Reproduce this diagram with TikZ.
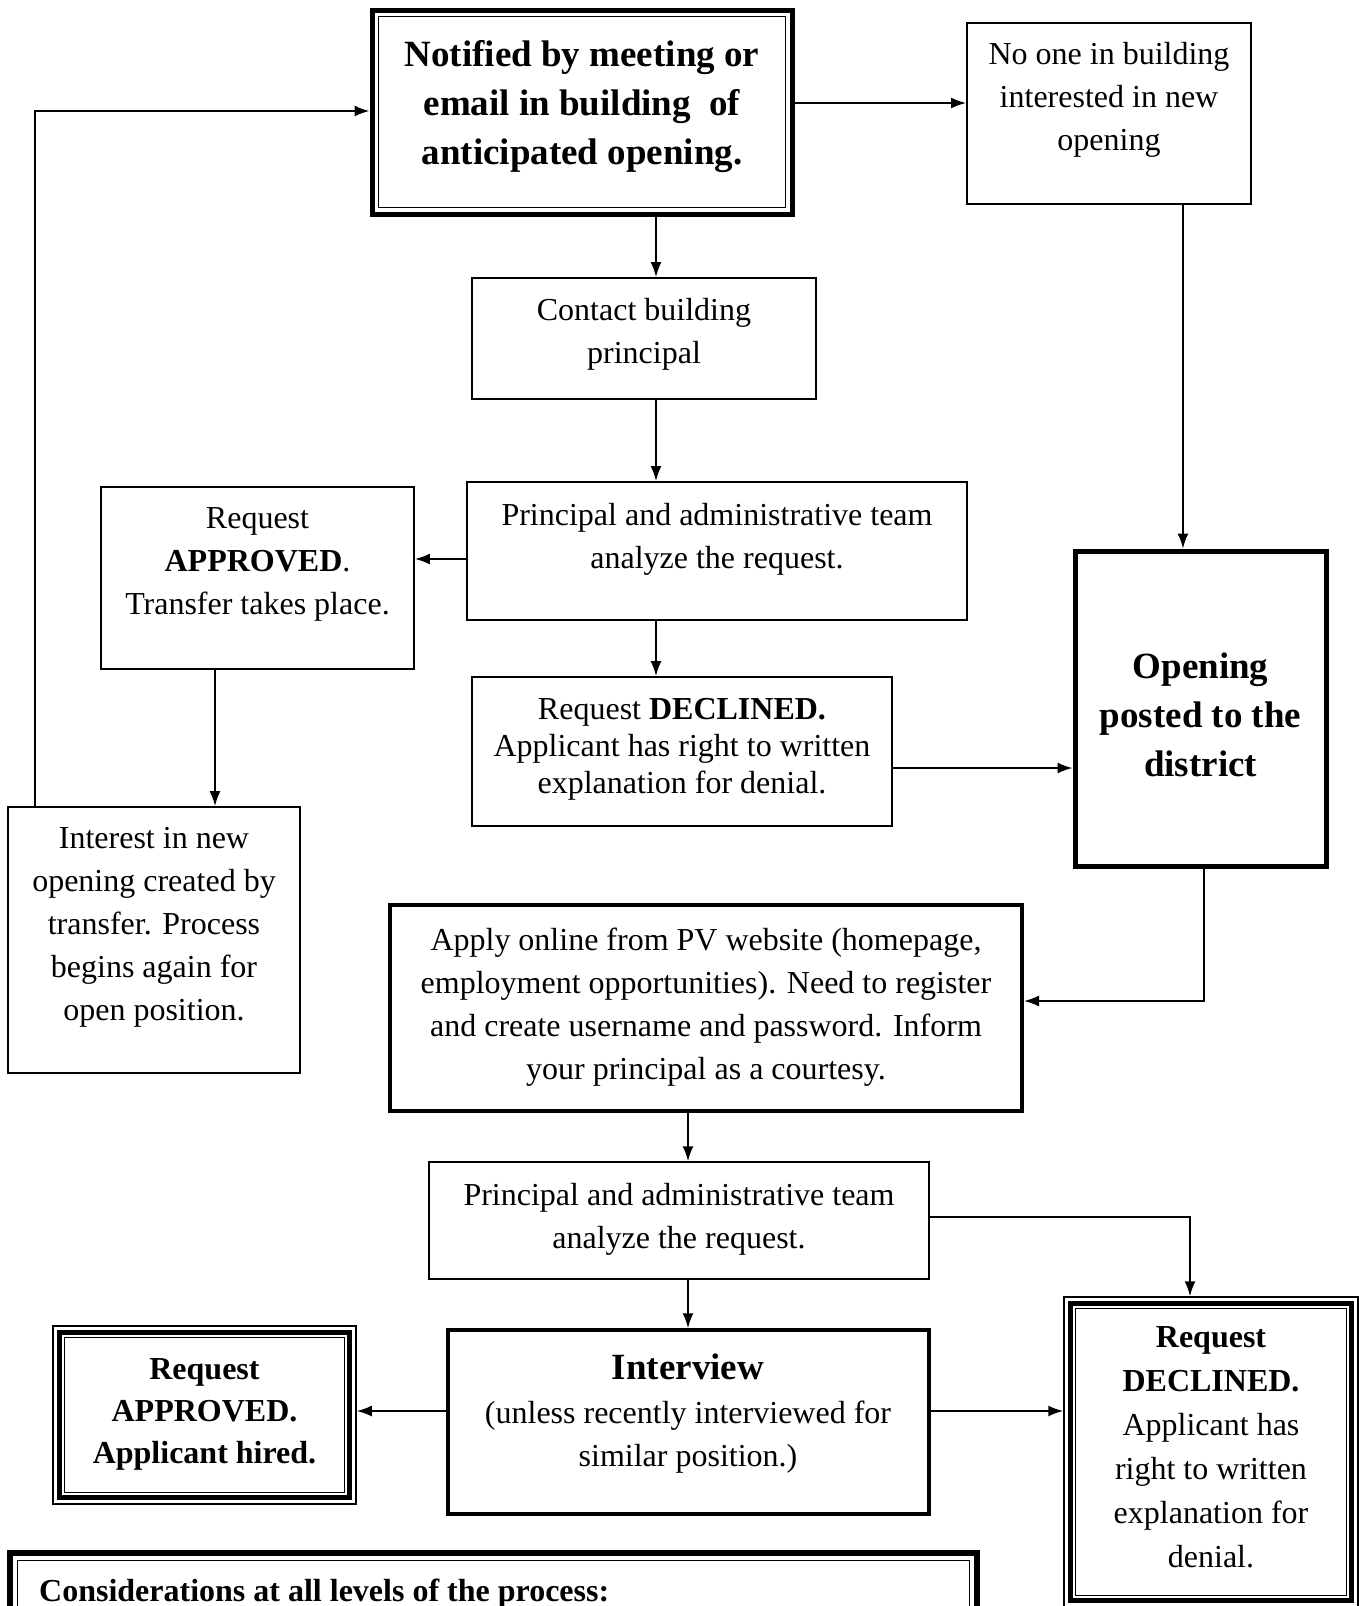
\documentclass[tikz,border=0pt]{standalone}
\usepackage{fontspec}
\setmainfont{Liberation Serif}
\usetikzlibrary{arrows.meta,calc}
\begin{document}
\begin{tikzpicture}[x=1pt,y=-1pt,
  box/.style={draw, line width=1.8pt, inner sep=0pt},
  txt/.style={align=center, font=\fontsize{32}{43}\selectfont, inner sep=0pt},
  btxt/.style={align=center, font=\fontsize{37}{49}\selectfont\bfseries, inner sep=0pt},
  arr/.style={line width=1.8pt, -{Latex[length=15pt,width=11pt]}},
]
\useasboundingbox[fill=white] (0,0) rectangle (1358,1606);

% boxes
\node[box, line width=5pt, minimum width=420, minimum height=204] (T) at (582,112) {};
\draw[line width=1.3pt] ([shift={(9pt,-9pt)}]T.north west) rectangle ([shift={(-9pt,9pt)}]T.south east);
\node[box, minimum width=284, minimum height=181] (N) at (1109,113.5) {};
\node[box, minimum width=344, minimum height=121] (C) at (644,338.5) {};
\node[box, minimum width=500, minimum height=138] (P1) at (717,551) {};
\node[box, minimum width=313, minimum height=182] (A1) at (257.5,578) {};
\node[box, minimum width=420, minimum height=149] (D1) at (682,751.5) {};
\node[box, line width=5pt, minimum width=251, minimum height=315] (O) at (1200.5,708.5) {};
\node[box, minimum width=292, minimum height=266] (I) at (154,940) {};
\node[box, line width=4pt, minimum width=632, minimum height=206] (Ap) at (706,1008) {};
\node[box, line width=1.5pt, minimum width=500, minimum height=117] (P2) at (679,1220.5) {};
\node[box, line width=3.5pt, minimum width=481, minimum height=184] (V) at (688.5,1422) {};
\node[box, line width=1.5pt, minimum width=303, minimum height=178] (A2) at (204.5,1415) {};
\draw[line width=5pt] ([shift={(7.5pt,-7.5pt)}]A2.north west) rectangle ([shift={(-7.5pt,7.5pt)}]A2.south east);
\draw[line width=1.2pt] ([shift={(12.5pt,-12.5pt)}]A2.north west) rectangle ([shift={(-12.5pt,12.5pt)}]A2.south east);
\node[box, line width=1.5pt, minimum width=294, minimum height=310] (D2) at (1211,1452) {};
\draw[line width=5pt] ([shift={(7.5pt,-7.5pt)}]D2.north west) rectangle ([shift={(-7.5pt,7.5pt)}]D2.south east);
\draw[line width=1.2pt] ([shift={(12.5pt,-12.5pt)}]D2.north west) rectangle ([shift={(-12.5pt,12.5pt)}]D2.south east);
\node[box, line width=5.5pt, minimum width=967, minimum height=100] (K) at (493.5,1603) {};
\draw[line width=1.3pt] ([shift={(10pt,-10pt)}]K.north west) rectangle ([shift={(-10pt,10pt)}]K.south east);

% texts
\node[btxt] (tT) at (582,107) {Notified by meeting or\\email in building\ \ of\\anticipated opening.};
\node[txt] (tN) at (1109,100) {No one in building\\interested in new\\opening};
\node[txt] (tC) at (644,334) {Contact building\\principal};
\node[txt] (tP1) at (717,539) {Principal and administrative team\\analyze the request.};
\node[txt] (tA1) at (257.5,564) {Request\\\textbf{APPROVED}.\\Transfer takes place.};
\node[txt, font=\fontsize{32}{37}\selectfont] (tD1) at (682,749) {Request \textbf{DECLINED.}\\Applicant has right to written\\explanation for denial.};
\node[btxt] (tO) at (1200.5,715) {Opening\\posted to the\\district};
\node[txt] (tI) at (154,927) {Interest in new\\opening created by\\transfer. Process\\begins again for\\open position.};
\node[txt] (tAp) at (706,1007) {Apply online from PV website (homepage,\\employment opportunities). Need to register\\and create username and password. Inform\\your principal as a courtesy.};
\node[txt] (tP2) at (679,1219) {Principal and administrative team\\analyze the request.};
\node[btxt] (tV) at (688,1367) {Interview};
\node[txt] (tV2) at (688,1437) {(unless recently interviewed for\\similar position.)};
\node[txt, font=\fontsize{32}{42}\selectfont\bfseries] (tA2) at (204.5,1414) {Request\\APPROVED.\\Applicant hired.};
\node[txt, font=\fontsize{32}{44}\selectfont] (tD2) at (1211,1447) {\textbf{Request}\\\textbf{DECLINED.}\\Applicant has\\right to written\\explanation for\\denial.};
\node[txt, anchor=west, font=\fontsize{32}{40}\selectfont\bfseries] (tK) at (39,1594) {Considerations at all levels of the process:};

% connectors
\draw[arr] ([xshift=28pt]I.north west) |- ([yshift=1pt]T.west);
\draw[arr] ([yshift=9pt]T.east) -- ([yshift=9pt]T.east -| N.west);
\draw[arr] ([xshift=74pt]N.south) -- ([xshift=74pt]N.south |- O.north);
\draw[arr] ([xshift=74pt]T.south) -- ([xshift=74pt]T.south |- C.north);
\draw[arr] ([xshift=12pt]C.south) -- ([xshift=12pt]C.south |- P1.north);
\draw[arr] ([xshift=-61pt]P1.south) -- ([xshift=-61pt]P1.south |- D1.north);
\draw[arr] ([yshift=-8pt]P1.west) -- ([yshift=-8pt]P1.west -| A1.east);
\draw[arr] ([xshift=-42.5pt]A1.south) -- ([xshift=-42.5pt]A1.south |- I.north);
\draw[arr] ([yshift=-16.5pt]D1.east) -- ([yshift=-16.5pt]D1.east -| O.west);
\draw[arr] ([xshift=3.5pt]O.south) |- ([yshift=7pt]Ap.east);
\draw[arr] ([xshift=-18pt]Ap.south) -- ([xshift=-18pt]Ap.south |- P2.north);
\draw[arr] ([yshift=3.5pt]P2.east) -| ([xshift=-21pt]D2.north);
\draw[arr] ([xshift=9pt]P2.south) -- ([xshift=9pt]P2.south |- V.north);
\draw[arr] ([yshift=11pt]V.west) -- ([yshift=11pt]V.west -| A2.east);
\draw[arr] ([yshift=11pt]V.east) -- ([yshift=11pt]V.east -| D2.west);
\end{tikzpicture}
\end{document}
